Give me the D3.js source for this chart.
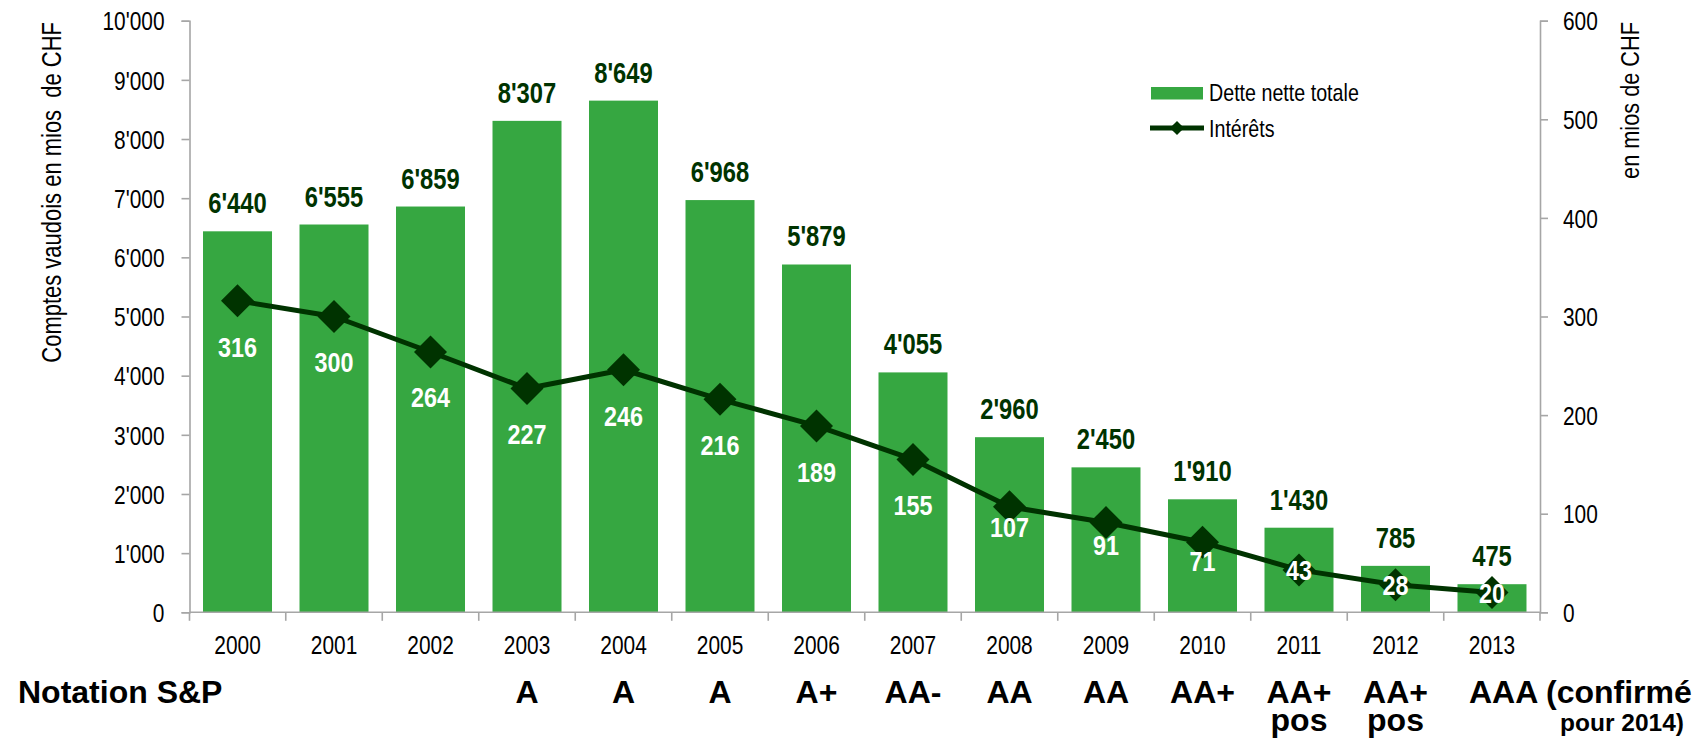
<!DOCTYPE html>
<html>
<head>
<meta charset="utf-8">
<script src="https://cdn.jsdelivr.net/npm/d3@7"></script>
<style>
  body { margin: 0; background: #fff; }
  svg { display: block; }
  text { font-family: "Liberation Sans", Arial, sans-serif; }
</style>
</head>
<body>
<svg id="chart" width="1697" height="742"></svg>
<script>
// data
let years = ["2000", "2001", "2002", "2003", "2004", "2005", "2006", "2007", "2008", "2009", "2010", "2011", "2012", "2013"]
let detteNette = [6440, 6555, 6859, 8307, 8649, 6968, 5879, 4055, 2960, 2450, 1910, 1430, 785, 475]
let interets = [316, 300, 264, 227, 246, 216, 189, 155, 107, 91, 71, 43, 28, 20]
let notations = ["", "", "", "A", "A", "A", "A+", "AA-", "AA", "AA", "AA+", "AA+|pos", "AA+|pos", "AAA (confirmé"]
let leftTicks = [0, 1000, 2000, 3000, 4000, 5000, 6000, 7000, 8000, 9000, 10000]
let rightTicks = [0, 100, 200, 300, 400, 500, 600]

// where the white labels sit below each marker (baseline offset, px)
let interetLabelDy = [56, 55, 55, 56, 56, 56, 56, 56, 30, 32, 29, 10, 10, 10]

let barColor = "#36a741"
let darkGreen = "#003300"
let axisColor = "#a6a6a6"
let narrowK = 0.82   // no Arial Narrow here, so squeeze Liberation Sans

let svg = d3.select("#chart")
let plotLeft = 189.5, plotRight = 1540, plotTop = 20.7, plotBottom = 612.3

let fmt = d3.formatLocale({decimal: ".", thousands: "'", grouping: [3], currency: ["", ""]}).format(",")

// squeeze a text horizontally around its own anchor point
function narrow(sel) {
    sel.each(function() {
        let t = d3.select(this)
        let px = +t.attr("x") || 0, py = +t.attr("y") || 0
        let prev = t.attr("transform") || ""
        t.attr("x", 0).attr("y", 0)
            .attr("transform", `${prev} translate(${px},${py}) scale(${narrowK},1)`)
    })
}

let x = d3.scaleBand().domain(years).range([plotLeft, plotRight]).paddingInner(0.285).paddingOuter(0.14)
let yLeft = d3.scaleLinear().domain([0, 10000]).range([plotBottom, plotTop])
let yRight = d3.scaleLinear().domain([0, 600]).range([plotBottom, plotTop])
let cx = d => x(d) + x.bandwidth() / 2

// bars
svg.append("g").selectAll("rect")
    .data(years)
    .enter()
    .append("rect")
    .attr("x", d => x(d))
    .attr("width", x.bandwidth())
    .attr("y", (d, i) => yLeft(detteNette[i]))
    .attr("height", (d, i) => plotBottom - yLeft(detteNette[i]))
    .attr("fill", barColor)

// bar value labels
svg.append("g").selectAll("text")
    .data(years)
    .enter()
    .append("text")
    .attr("x", d => cx(d))
    .attr("y", (d, i) => yLeft(detteNette[i]) - 18)
    .attr("text-anchor", "middle")
    .attr("font-size", 29)
    .attr("font-weight", "bold")
    .attr("fill", darkGreen)
    .text((d, i) => fmt(detteNette[i]))
    .call(narrow)

// axes
let axisL = svg.append("g")
    .attr("transform", `translate(${plotLeft},0)`)
    .call(d3.axisLeft(yLeft).tickValues(leftTicks).tickSize(8).tickPadding(17).tickFormat(fmt))
let axisR = svg.append("g")
    .attr("transform", `translate(${plotRight},0)`)
    .call(d3.axisRight(yRight).tickValues(rightTicks).tickSize(8).tickPadding(15))
let axisX = svg.append("g")
    .attr("transform", `translate(0,${plotBottom})`)
    .call(d3.axisBottom(x).tickSize(0).tickPadding(24))

;[axisL, axisR, axisX].forEach(a => {
    a.attr("font-family", null).attr("font-size", null)
    a.select(".domain").attr("stroke", axisColor).attr("stroke-width", 1.6)
    a.selectAll(".tick line").attr("stroke", axisColor).attr("stroke-width", 1.6)
    a.selectAll(".tick text")
        .attr("font-size", 25.5)
        .attr("fill", "#000")
})
axisL.selectAll(".tick text").attr("dy", "0.36em").call(narrow)
axisR.selectAll(".tick text").attr("dy", "0.36em").call(narrow)
axisX.selectAll(".tick text").call(narrow)
axisX.select(".domain").attr("d", `M${plotLeft},0H${plotRight}`)

// category separators under the x axis
let edges = years.map(d => x(d) - x.step() * x.paddingInner() / 2).concat([plotRight])
edges[0] = plotLeft
svg.append("g").selectAll("line")
    .data(edges)
    .enter()
    .append("line")
    .attr("x1", d => d).attr("x2", d => d)
    .attr("y1", plotBottom).attr("y2", plotBottom + 8.5)
    .attr("stroke", axisColor)
    .attr("stroke-width", 1.6)

// interest line
let line = d3.line()
    .x((d, i) => cx(years[i]))
    .y(d => yRight(d))
svg.append("path")
    .datum(interets)
    .attr("d", line)
    .attr("fill", "none")
    .attr("stroke", darkGreen)
    .attr("stroke-width", 5)
    .attr("stroke-linejoin", "round")

let diamond = d3.symbol().type(d3.symbolSquare).size(33 * 33 / 2)
svg.append("g").selectAll("path")
    .data(interets)
    .enter()
    .append("path")
    .attr("d", diamond)
    .attr("transform", (d, i) => `translate(${cx(years[i])},${yRight(d)}) rotate(45)`)
    .attr("fill", darkGreen)

svg.append("g").selectAll("text")
    .data(interets)
    .enter()
    .append("text")
    .attr("x", (d, i) => cx(years[i]))
    .attr("y", (d, i) => yRight(d) + interetLabelDy[i])
    .attr("text-anchor", "middle")
    .attr("font-size", 28.5)
    .attr("font-weight", "bold")
    .attr("fill", "#fff")
    .text(d => d)
    .call(narrow)

// axis titles
svg.append("text")
    .attr("transform", "translate(61,22) rotate(-90)")
    .attr("text-anchor", "end")
    .attr("font-size", 26.8)
    .style("white-space", "pre")
    .text("Comptes vaudois en mios  de CHF")
    .call(narrow)
svg.append("text")
    .attr("transform", "translate(1639,22) rotate(-90)")
    .attr("text-anchor", "end")
    .attr("font-size", 26.5)
    .text("en mios de CHF")
    .call(narrow)

// legend
let legend = svg.append("g")
legend.append("rect").attr("x", 1151).attr("y", 87).attr("width", 52).attr("height", 12.5).attr("fill", barColor)
legend.append("text").attr("x", 1209).attr("y", 101).attr("font-size", 24).text("Dette nette totale").call(narrow)
legend.append("line").attr("x1", 1150).attr("x2", 1204).attr("y1", 128).attr("y2", 128)
    .attr("stroke", darkGreen).attr("stroke-width", 5)
legend.append("path").attr("d", d3.symbol().type(d3.symbolSquare).size(100))
    .attr("transform", "translate(1177,128) rotate(45)").attr("fill", darkGreen)
legend.append("text").attr("x", 1209).attr("y", 136.5).attr("font-size", 24).text("Intérêts").call(narrow)

// S&P ratings row
let rating = svg.append("g").attr("font-weight", "bold").attr("font-size", 32).attr("fill", "#000")
rating.append("text").attr("x", 18).attr("y", 703).text("Notation S&P")
notations.forEach((n, i) => {
    let last = i === notations.length - 1
    let tx = last ? cx(years[i]) - 23 : cx(years[i])
    n.split("|").forEach((part, k) => {
        rating.append("text")
            .attr("x", tx)
            .attr("y", 703 + k * 27.5)
            .attr("text-anchor", last ? "start" : "middle")
            .text(part)
    })
})
rating.append("text").attr("x", 1684).attr("y", 731).attr("text-anchor", "end").attr("font-size", 24.5).text("pour 2014)")
</script>
</body>
</html>
